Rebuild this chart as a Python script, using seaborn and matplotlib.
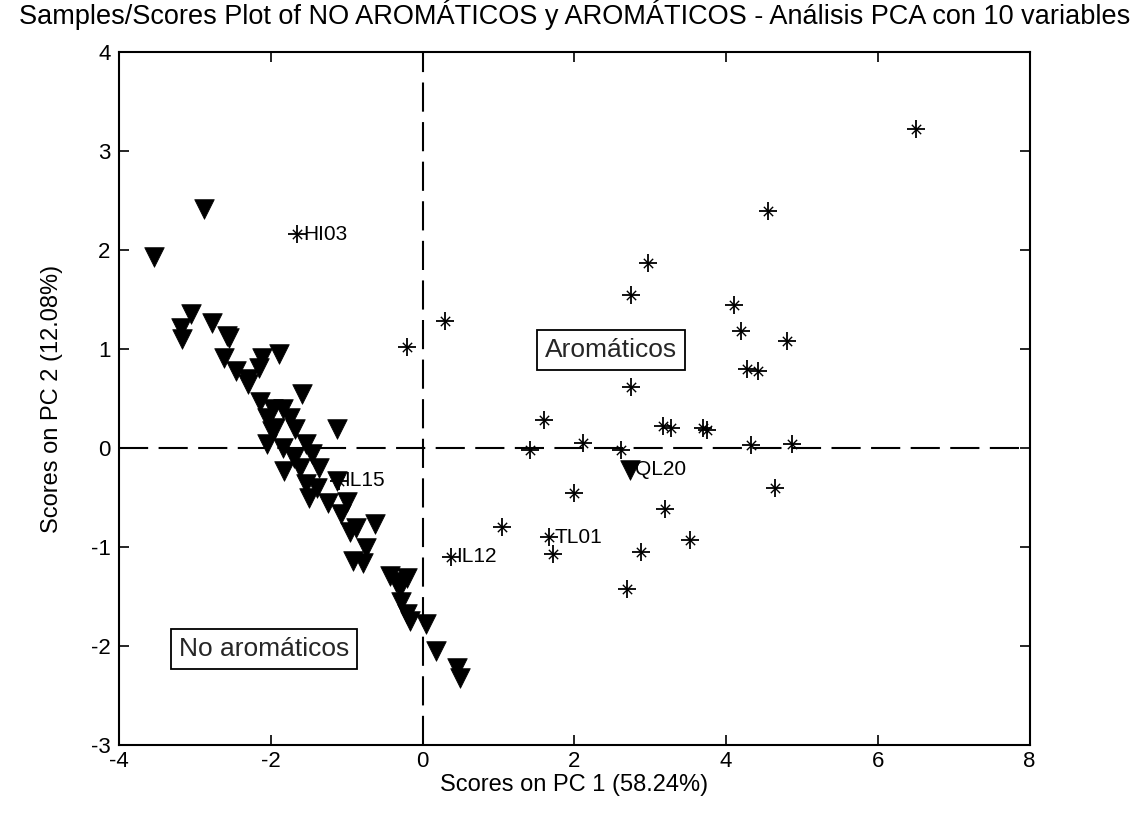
import matplotlib
matplotlib.use("Agg")
import matplotlib.pyplot as plt
import seaborn as sns
import pandas as pd

# No aromáticos (triangles)
tri_x = [-2.88, -3.54, -3.05, -3.18, -3.17, -2.78, -2.55, -2.62, -2.46, -2.12, -1.89, -2.16,
         -2.57, -2.30, -1.59, -2.14, -1.97, -1.84, -2.05, -1.99, -1.68, -1.13, -2.05, -1.84,
         -1.53, -1.46, -1.82, -1.62, -1.36, -1.53, -1.39, -1.13, -1.49, -1.00, -1.07, -0.87,
         -0.63, -0.74, -0.92, -0.79, -0.43, -0.21, -0.30, -0.28, -0.21, -0.17, 0.05, 0.18,
         0.45, 0.49, -2.30, -1.75, -1.95, -1.70, -1.25, -0.95, -0.35, 2.73]
tri_y = [2.42, 1.93, 1.36, 1.21, 1.10, 1.26, 1.11, 0.91, 0.78, 0.91, 0.95, 0.81,
         1.13, 0.65, 0.55, 0.47, 0.40, 0.40, 0.30, 0.17, 0.19, 0.19, 0.04, 0.00,
         0.04, -0.06, -0.23, -0.20, -0.20, -0.36, -0.40, -0.33, -0.50, -0.54, -0.67, -0.81,
         -0.77, -1.01, -1.14, -1.16, -1.29, -1.31, -1.41, -1.55, -1.68, -1.75, -1.78, -2.05,
         -2.22, -2.32, 0.70, 0.30, 0.20, -0.10, -0.55, -0.85, -1.35, -0.22]

# Aromáticos (asterisks)
ast_x = [6.50, 4.55, 2.97, 2.75, 4.10, 4.20, 4.80, 4.28, 4.42, 2.75, 0.30, -0.20, 1.60,
         1.42, 2.12, 2.62, 3.17, 3.28, 3.70, 3.75, 4.33, 4.87, 2.00, 3.20, 4.65, 1.05,
         1.67, 1.72, 2.88, 3.52, 2.70, 0.37, -1.10, -1.65]
ast_y = [3.22, 2.40, 1.87, 1.55, 1.45, 1.18, 1.08, 0.80, 0.78, 0.62, 1.28, 1.02, 0.28,
         -0.02, 0.05, -0.02, 0.22, 0.20, 0.20, 0.18, 0.03, 0.04, -0.45, -0.62, -0.40, -0.80,
         -0.90, -1.07, -1.05, -0.93, -1.42, -1.10, -0.33, 2.16]

lab_names = ["HI03", "IL15", "IL12", "TL01", "QL20"]
lab_x = [-1.65, -1.10, 0.37, 1.67, 2.73]
lab_y = [2.16, -0.33, -1.10, -0.90, -0.22]

title = "Samples/Scores Plot of NO AROMÁTICOS y AROMÁTICOS - Análisis PCA con 10 variables"
xlabel = "Scores on PC 1 (58.24%)"
ylabel = "Scores on PC 2 (12.08%)"

sns.set_theme(style="white")
plt.rcParams['font.family'] = ['Liberation Sans', 'DejaVu Sans']
plt.rcParams['axes.unicode_minus'] = False

fig = plt.figure(figsize=(11.44, 8.16), dpi=100)
ax = fig.add_axes([0.104, 0.087, 0.796, 0.849])

ax.axhline(0, color="black", lw=1.5, ls=(0, (14, 5)), zorder=1)
ax.axvline(0, color="black", lw=1.5, ls=(0, (14, 5)), zorder=1)

dtri = pd.DataFrame({"x": tri_x, "y": tri_y})
dast = pd.DataFrame({"x": ast_x, "y": ast_y})
sns.scatterplot(data=dtri, x="x", y="y", marker="v", s=200, color="black",
                edgecolor="black", linewidth=0.5, ax=ax, zorder=3)
sns.scatterplot(data=dast, x="x", y="y", marker="+", s=160, color="black",
                linewidth=1.3, ax=ax, zorder=3)
sns.scatterplot(data=dast, x="x", y="y", marker="x", s=45, color="black",
                linewidth=1.0, ax=ax, zorder=3)

for n, x, y in zip(lab_names, lab_x, lab_y):
    ax.annotate(n, (x, y), xytext=(4, 0), textcoords="offset points",
                ha="left", va="center", fontsize=15, color="black")

bbox = dict(boxstyle="square,pad=0.3", fc="white", ec="black", lw=1.3)
ax.text(2.48, 0.99, "Aromáticos", ha="center", va="center", fontsize=19, bbox=bbox)
ax.text(-2.09, -2.03, "No aromáticos", ha="center", va="center", fontsize=19, bbox=bbox)

ax.set_xlim(-4, 8)
ax.set_ylim(-3, 4)
ax.set_xticks([-4, -2, 0, 2, 4, 6, 8])
ax.set_yticks([-3, -2, -1, 0, 1, 2, 3, 4])
ax.tick_params(direction="in", length=7, width=1.2, top=True, right=True,
               bottom=True, left=True, labelsize=16, colors="black")
ax.tick_params(axis="x", pad=4)
ax.tick_params(axis="y", pad=6)
for s in ax.spines.values():
    s.set_color("black")
    s.set_linewidth(1.5)
ax.set_xlabel(xlabel, fontsize=17, labelpad=2, color="black")
ax.set_ylabel(ylabel, fontsize=17, labelpad=20, color="black")
ax.set_title(title, fontsize=19.5, pad=20, color="black")

fig.savefig("out.png", dpi=100)
